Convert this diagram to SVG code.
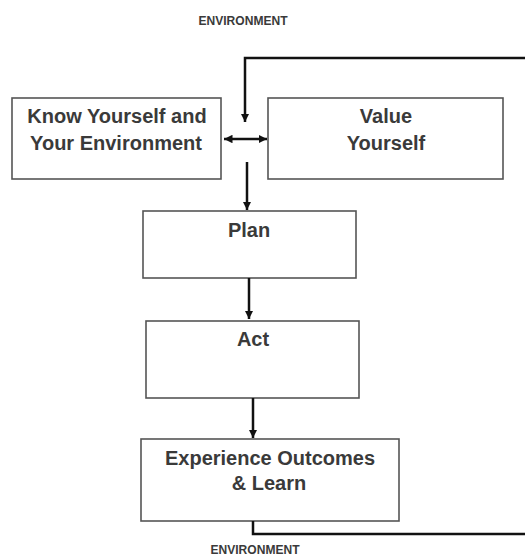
<svg xmlns="http://www.w3.org/2000/svg" width="525" height="556" viewBox="0 0 525 556">
<defs>
<marker id="ah" viewBox="0 0 10 10" refX="10" refY="5" markerWidth="3.4" markerHeight="3.4" orient="auto-start-reverse" markerUnits="strokeWidth">
<path d="M0,0 L10,5 L0,10 z" fill="#111"/>
</marker>
<style>
.box{fill:#fff;stroke:#555;stroke-width:1.6}
.t{font-family:"Liberation Sans",Arial,sans-serif;font-weight:bold;font-size:20px;fill:#3a3a3a;text-anchor:middle}
.env{font-family:"Liberation Sans",Arial,sans-serif;font-weight:bold;font-size:12px;fill:#3a3a3a;text-anchor:middle}
.c{fill:none;stroke:#111;stroke-width:2.5}
</style>
</defs>
<rect width="525" height="556" fill="#fff"/>
<text class="env" x="243" y="25" textLength="89" lengthAdjust="spacingAndGlyphs">ENVIRONMENT</text>
<text class="env" x="255" y="554" textLength="89" lengthAdjust="spacingAndGlyphs">ENVIRONMENT</text>
<g id="know">
<rect class="box" x="12" y="98" width="209" height="81"/>
<text class="t" x="117" y="123">Know Yourself and</text>
<text class="t" x="116" y="150">Your Environment</text>
</g>
<g id="value">
<rect class="box" x="268" y="98" width="235" height="81"/>
<text class="t" x="386" y="123">Value</text>
<text class="t" x="386" y="150">Yourself</text>
</g>
<g id="plan">
<rect class="box" x="143" y="211" width="213" height="67"/>
<text class="t" x="249" y="237">Plan</text>
</g>
<g id="act">
<rect class="box" x="146" y="321" width="213" height="77"/>
<text class="t" x="253" y="346">Act</text>
</g>
<g id="experience">
<rect class="box" x="141" y="439" width="258" height="82"/>
<text class="t" x="270" y="465">Experience Outcomes</text>
<text class="t" x="269" y="490">&amp; Learn</text>
</g>
<g id="connectors">
<path class="c" d="M525,58 H245 V122" marker-end="url(#ah)"/>
<path class="c" d="M224,139 H267" marker-start="url(#ah)" marker-end="url(#ah)"/>
<path class="c" d="M247,162 V210" marker-end="url(#ah)"/>
<path class="c" d="M249,278 V319" marker-end="url(#ah)"/>
<path class="c" d="M253,398 V438" marker-end="url(#ah)"/>
<path class="c" d="M253,521 V534 H525"/>
</g>
</svg>
